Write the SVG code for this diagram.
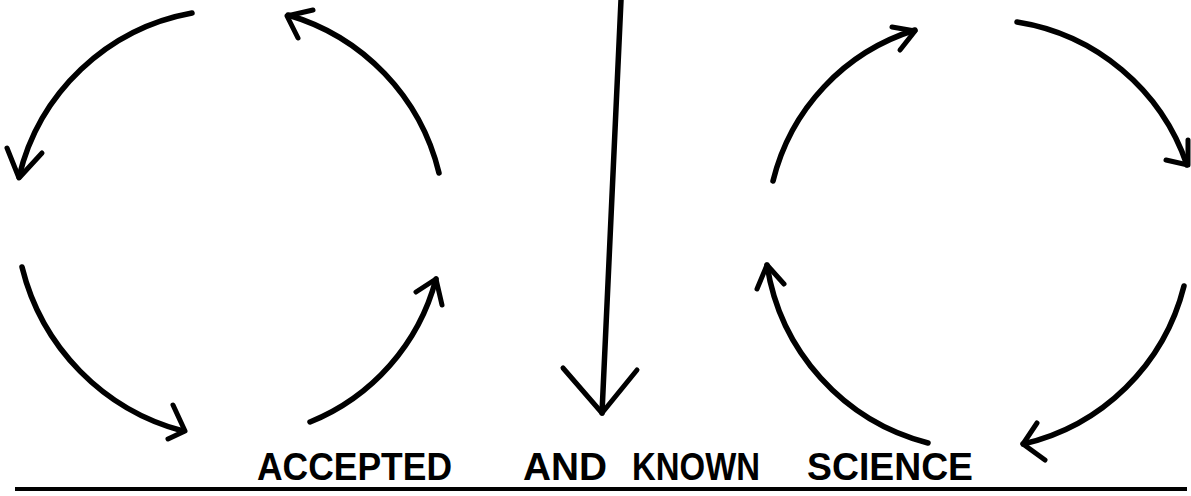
<svg xmlns="http://www.w3.org/2000/svg" width="1191" height="496" viewBox="0 0 1191 496">
  <style>
    .arc { fill: none; stroke: #000; stroke-width: 5.5; stroke-linecap: round; stroke-linejoin: round; }
    .head { fill: none; stroke: #000; stroke-width: 5; stroke-linecap: round; stroke-linejoin: round; }
    .lbl { font-family: "Liberation Sans", Arial, sans-serif; font-size: 38px; font-weight: bold; fill: #000; }
  </style>
  <rect width="1191" height="496" fill="#fff"/>

  <g id="left-cycle">
    <path class="arc" d="M192,13 A218,218 0 0 0 19,177"/>
    <polyline class="head" points="7,148 19,178 42,153"/>
    <path class="arc" d="M439,173 A218,218 0 0 0 288,15"/>
    <polyline class="head" points="313,10 287,16 298,38"/>
    <path class="arc" d="M22,267 A225,225 0 0 0 183,431"/>
    <polyline class="head" points="173,405 185,431 168,439"/>
    <path class="arc" d="M310,422 A213,213 0 0 0 436,279"/>
    <polyline class="head" points="416,292 436,279 442,305"/>
  </g>

  <g id="right-cycle">
    <path class="arc" d="M773,181 A210,210 0 0 1 915,30"/>
    <polyline class="head" points="892,27 915,31 900,50"/>
    <path class="arc" d="M1017,22 A215,215 0 0 1 1187,165"/>
    <polyline class="head" points="1188,140 1188,165 1166,160"/>
    <path class="arc" d="M928,443 A218,218 0 0 1 767,265"/>
    <polyline class="head" points="757,289 767,265 784,284"/>
    <path class="arc" d="M1184,286 A216,216 0 0 1 1023,444"/>
    <polyline class="head" points="1037,423 1023,444 1045,460"/>
  </g>

  <g id="connectors">
    <line class="arc" x1="621" y1="0" x2="602" y2="413"/>
    <polyline class="head" points="563,368 602,413 637,370"/>
  </g>

  <g id="label">
    <text class="lbl" x="257" y="480" textLength="195" lengthAdjust="spacingAndGlyphs">ACCEPTED</text>
    <text class="lbl" x="523" y="480" textLength="84" lengthAdjust="spacingAndGlyphs">AND</text>
    <text class="lbl" x="632" y="480" textLength="128" lengthAdjust="spacingAndGlyphs">KNOWN</text>
    <text class="lbl" x="807" y="480" textLength="166" lengthAdjust="spacingAndGlyphs">SCIENCE</text>
  </g>

  <g id="baseline">
    <line x1="15" y1="489" x2="1187" y2="489" stroke="#000" stroke-width="4"/>
  </g>
</svg>
